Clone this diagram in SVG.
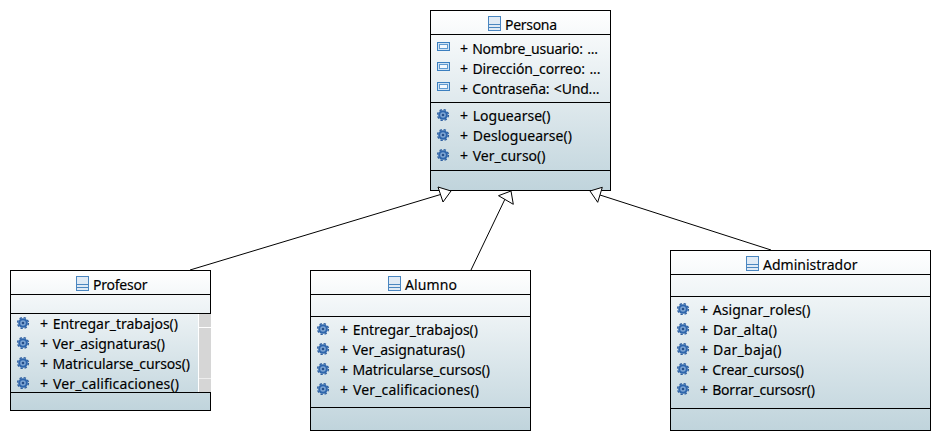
<svg xmlns="http://www.w3.org/2000/svg" width="941" height="441" viewBox="0 0 941 441">
<style>
.box{stroke:#000;stroke-width:1;}
.sep{stroke:#000;stroke-width:1;}
text{font-family:"Noto Sans","Open Sans","DejaVu Sans",sans-serif;font-size:14px;fill:#000;stroke:#000;stroke-width:0.15;word-spacing:1px;}
.c{stroke:#000;stroke-width:1;fill:none;}
.h{fill:#fff;stroke:#000;stroke-width:1;}
</style>
<defs>
<linearGradient id="g" x1="0" y1="0" x2="0" y2="1"><stop offset="0" stop-color="#ffffff"/><stop offset="1" stop-color="#c0d4dc"/></linearGradient>
<g id="cls"><rect x="0.5" y="0.5" width="12" height="14" fill="#dfeaf5" stroke="#4a86c0"/><path d="M1 8.500H12M1 11.500H12" stroke="#4a86c0"/></g>
<g id="attr"><rect x="0.5" y="0.5" width="12" height="8" fill="#cfe2f3" stroke="#3b7fbf"/><rect x="2.5" y="2.500" width="8" height="4" fill="#f4f9fd" stroke="#5f9ad0"/></g>
<g id="op"><circle cx="6" cy="6" r="5.400" fill="none" stroke="#2a5c9e" stroke-width="1.400" stroke-dasharray="2.400 1.840"/><circle cx="6" cy="6" r="4.800" fill="#2f66ac"/><circle cx="6" cy="6" r="2.800" fill="#7fa6d4"/><circle cx="6" cy="6" r="1.300" fill="#264f8a"/></g>
</defs>
<g id="Persona">
<rect class="box" x="430.5" y="10.5" width="180" height="180" fill="url(#g)"/>
<path class="sep" d="M430 34.5H611M430 102.500H611M430 170.500H611"/>
<use href="#cls" x="488" y="16"/><text x="505" y="30" textLength="52">Persona</text>
<use href="#attr" x="437" y="42"/><text x="460" y="54" textLength="138">+ Nombre_usuario: ...</text>
<use href="#attr" x="437" y="62"/><text x="460" y="74" textLength="140.500">+ Dirección_correo: ...</text>
<use href="#attr" x="437" y="82"/><text x="460" y="94" textLength="139.500">+ Contraseña: &lt;Und...</text>
<use href="#op" x="437" y="109"/><text x="460" y="121" textLength="90.500">+ Loguearse()</text>
<use href="#op" x="437" y="129"/><text x="460" y="141" textLength="112">+ Desloguearse()</text>
<use href="#op" x="437" y="149"/><text x="460" y="161" textLength="85.500">+ Ver_curso()</text>
</g>
<g id="Profesor">
<rect class="box" x="10.500" y="270.500" width="200" height="140" fill="url(#g)"/>
<rect x="199" y="314" width="12" height="78" fill="#d6d6d6"/>
<path d="M199 327.500H211" stroke="#fff"/><path d="M199 378.500H211" stroke="#eee"/><path d="M198.500 314V392" stroke="#fff"/>
<path class="sep" d="M10 294.500H211M10 313.500H211M10 392.500H211"/>
<use href="#cls" x="76" y="276"/><text x="93" y="290" textLength="54.500">Profesor</text>
<use href="#op" x="17" y="317"/><text x="40" y="329" textLength="138">+ Entregar_trabajos()</text>
<use href="#op" x="17" y="337"/><text x="40" y="349" textLength="125">+ Ver_asignaturas()</text>
<use href="#op" x="17" y="357"/><text x="40" y="369" textLength="150">+ Matricularse_cursos()</text>
<use href="#op" x="17" y="377"/><text x="40" y="389" textLength="139">+ Ver_calificaciones()</text>
</g>
<g id="Alumno">
<rect class="box" x="310.500" y="270.500" width="220" height="160" fill="url(#g)"/>
<path class="sep" d="M310 294.500H531M310 316.500H531M310 407.500H531"/>
<use href="#cls" x="388" y="276"/><text x="405" y="290" textLength="52">Alumno</text>
<use href="#op" x="317" y="323"/><text x="340" y="335" textLength="138">+ Entregar_trabajos()</text>
<use href="#op" x="317" y="343"/><text x="340" y="355" textLength="125">+ Ver_asignaturas()</text>
<use href="#op" x="317" y="363"/><text x="340" y="375" textLength="150">+ Matricularse_cursos()</text>
<use href="#op" x="317" y="383"/><text x="340" y="395" textLength="139">+ Ver_calificaciones()</text>
</g>
<g id="Administrador">
<rect class="box" x="670.500" y="250.500" width="260" height="180" fill="url(#g)"/>
<path class="sep" d="M670 274.500H931M670 296.500H931M670 408.500H931"/>
<use href="#cls" x="746" y="256"/><text x="763" y="270" textLength="94.500">Administrador</text>
<use href="#op" x="677" y="303"/><text x="700" y="315" textLength="110.500">+ Asignar_roles()</text>
<use href="#op" x="677" y="323"/><text x="700" y="335" textLength="77">+ Dar_alta()</text>
<use href="#op" x="677" y="343"/><text x="700" y="355" textLength="81.500">+ Dar_baja()</text>
<use href="#op" x="677" y="363"/><text x="700" y="375" textLength="104">+ Crear_cursos()</text>
<use href="#op" x="677" y="383"/><text x="700" y="395" textLength="115">+ Borrar_cursosr()</text>
</g>
<g id="connectors">
<path class="c" d="M190 270L440.500 194.500"/><path class="h" d="M451 191L438 187L443 202Z"/>
<path class="c" d="M471 270L505.500 198"/><path class="h" d="M511 191L498.500 195.700L513.300 204.300Z"/>
<path class="c" d="M771 250L600 195"/><path class="h" d="M590 191L602.300 187.300L597.700 202.300Z"/>
</g>
</svg>
